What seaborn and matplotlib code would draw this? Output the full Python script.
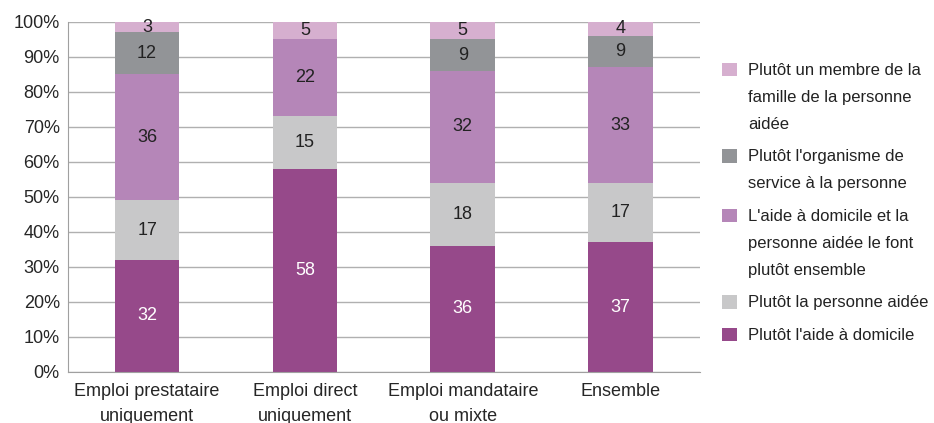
import pandas as pd
import seaborn as sns
import matplotlib.pyplot as plt

# Data (percentages, bottom to top)
categories = ["Emploi prestataire\nuniquement", "Emploi direct\nuniquement",
              "Emploi mandataire\nou mixte", "Ensemble"]
series_names = ["Plutôt l'aide à domicile",
                "Plutôt la personne aidée",
                "L'aide à domicile et la\npersonne aidée le font\nplutôt ensemble",
                "Plutôt l'organisme de\nservice à la personne",
                "Plutôt un membre de la\nfamille de la personne\naidée"]
aide_domicile = [32, 58, 36, 37]
personne_aidee = [17, 15, 18, 17]
ensemble = [36, 22, 32, 33]
organisme = [12, 0, 9, 9]
famille = [3, 5, 5, 4]
colors = ["#96498A", "#C8C8C9", "#B586B8", "#929497", "#D6AFCF"]
label_colors = ["white", "#222222", "#222222", "#222222", "#222222"]

values = [aide_domicile, personne_aidee, ensemble, organisme, famille]

sns.set_style("white")
plt.rcParams['font.family'] = ['Liberation Sans Narrow', 'Liberation Sans', 'DejaVu Sans']
plt.rcParams['font.size'] = 13

fig = plt.figure(figsize=(9.34, 4.23), dpi=100)
ax = fig.add_axes([0.073, 0.121, 0.676, 0.827])

bottom = [0, 0, 0, 0]
handles = []
for name, vals, col, lcol in zip(series_names, values, colors, label_colors):
    df = pd.DataFrame({"cat": categories, "val": vals})
    n_before = len(ax.containers)
    sns.barplot(data=df, x="cat", y="val", order=categories, color=col,
                width=0.41, bottom=bottom, ax=ax, linewidth=0, saturation=1)
    cont = ax.containers[n_before]
    handles.append(cont.patches[0])
    ax.bar_label(cont, labels=[str(v) if v > 0 else "" for v in vals],
                 label_type="center", color=lcol, fontsize=13)
    bottom = [b + v for b, v in zip(bottom, vals)]

ax.set_ylim(0, 100)
ax.set_xlim(-0.5, 3.5)
ax.set_yticks(range(0, 101, 10))
ax.set_yticklabels([f"{v}%" for v in range(0, 101, 10)])
ax.set_xticks([-0.5, 0.5, 1.5, 2.5, 3.5])
ax.set_xticklabels([])
ax.set_xticks(range(4), minor=True)
ax.set_xticklabels(categories, minor=True, linespacing=1.6)
ax.tick_params(axis="x", which="major", length=5, color="#A0A0A0", direction="out")
ax.tick_params(axis="x", which="minor", length=0, pad=8)
ax.tick_params(axis="y", length=4, color="#A0A0A0", direction="out", pad=2)
ax.set_xlabel("")
ax.set_ylabel("")
ax.yaxis.grid(True, color="#B0B0B0", linewidth=1)
ax.set_axisbelow(True)
for s in ["top", "right"]:
    ax.spines[s].set_visible(False)
for s in ["left", "bottom"]:
    ax.spines[s].set_color("#A0A0A0")

leg = fig.legend(handles[::-1], series_names[::-1], loc="upper left",
                 bbox_to_anchor=(0.773, 0.852), frameon=False, handlelength=0.9,
                 handleheight=0.9, handletextpad=0.65, labelspacing=1.05,
                 fontsize=12, borderpad=0, borderaxespad=0)
for t in leg.get_texts():
    t.set_linespacing(2.0)
    t.set_color("#222222")
# put each legend square next to the first line of its label
for column in leg._legend_handle_box.get_children():
    for entry in column.get_children():
        entry.align = "top"

fig.savefig("out.png", dpi=100)
